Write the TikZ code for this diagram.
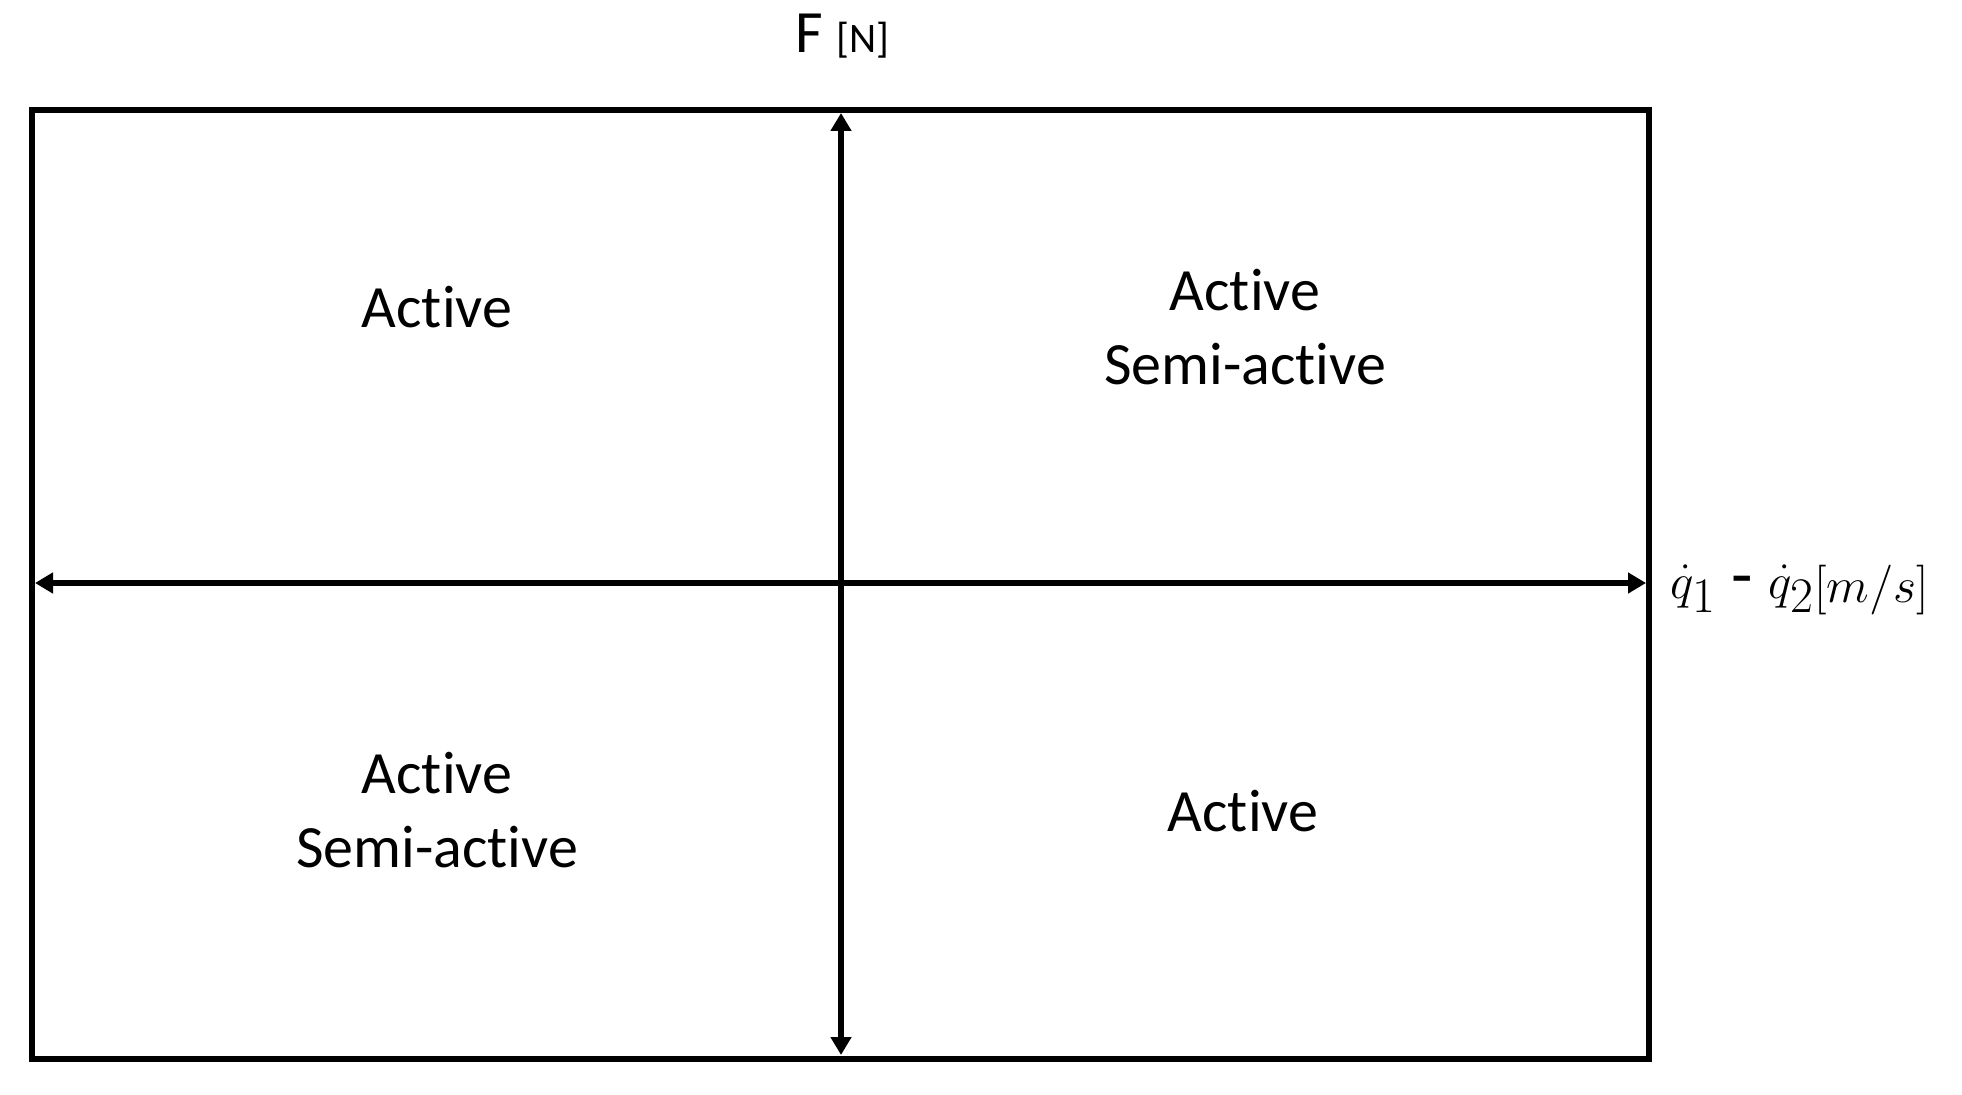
\documentclass[tikz,border=0pt]{standalone}
\usepackage[no-math]{fontspec}
\setmainfont[Ligatures=NoCommon]{Carlito}
\usetikzlibrary{arrows.meta}
\begin{document}
\begin{tikzpicture}[x=0.5pt,y=-0.5pt,
    >={Triangle[length=9pt,width=10pt]},
    frame/.style={line width=2.8pt},
    axis/.style={line width=3pt,<->},
    region/.style={align=center,font=\fontsize{30}{37}\selectfont}]
    \useasboundingbox (0,0) rectangle (1962,1095);
    % frame corners and axis ends
    \coordinate (boxtl) at (32,110);
    \coordinate (boxbr) at (1649,1059);
    \coordinate (xmin) at (35,583);
    \coordinate (xmax) at (1646,583);
    \coordinate (ymax) at (841,113);
    \coordinate (ymin) at (841,1055);
    \draw[frame] (boxtl) rectangle (boxbr);
    \draw[axis] (xmin) -- (xmax);
    \draw[axis] (ymin) -- (ymax);
    % axis labels
    \node[anchor=base west,inner sep=0pt,font=\fontsize{30}{37}\selectfont] (flabel) at (795,53) {F {\fontsize{21}{25}\selectfont[N]}};
    \node[anchor=base west,inner sep=0pt,font=\fontsize{35}{40}\selectfont] (vlabel) at (1670,598) {$\dot{q}_1$ - $\dot{q}_2$\raisebox{-2pt}{\fontsize{27}{30}\selectfont$[m/s]$}};
    % quadrants
    \node[region] (quadII) at (437,307) {Active};
    \node[region] (quadI) at (1245,327) {Active\\Semi-active};
    \node[region] (quadIII) at (437,810) {Active\\Semi-active};
    \node[region] (quadIV) at (1243,811) {Active};
\end{tikzpicture}
\end{document}
